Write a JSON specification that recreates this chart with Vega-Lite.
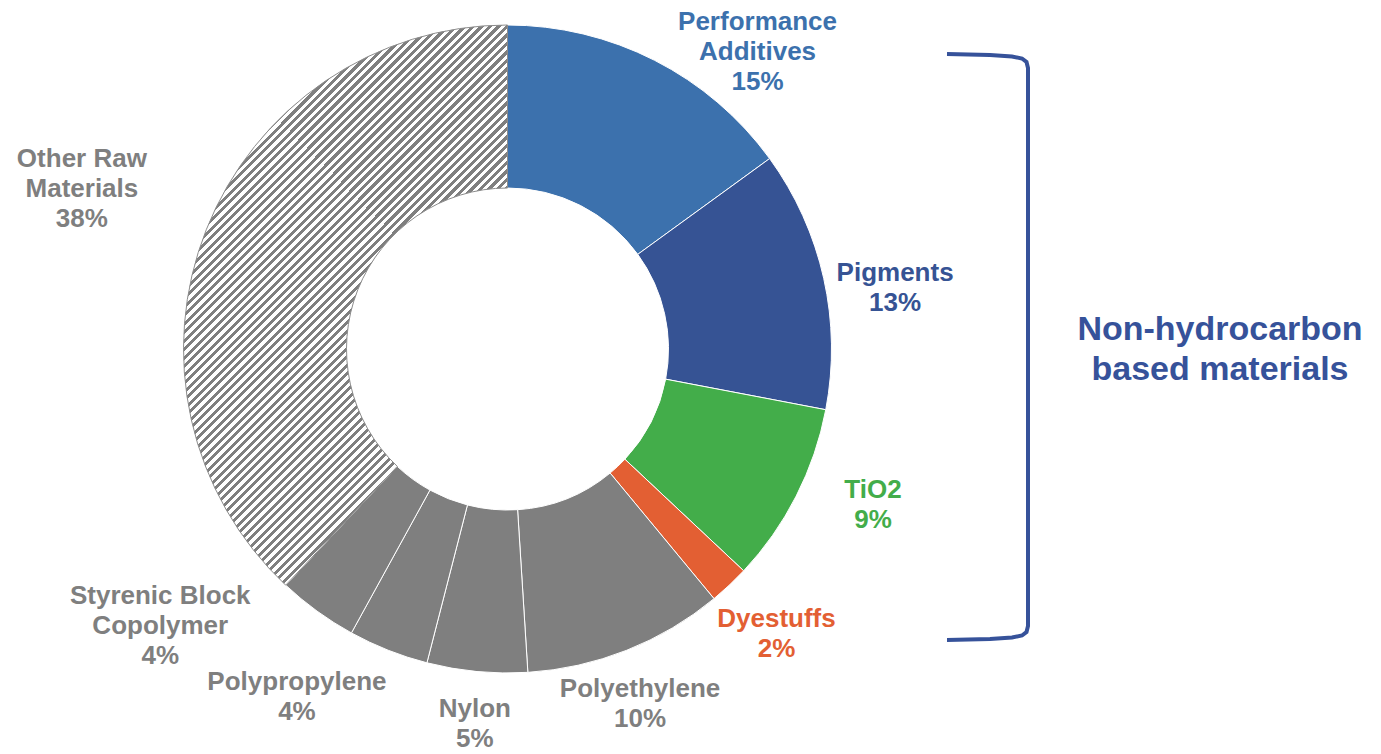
{
  "$schema": "https://vega.github.io/schema/vega-lite/v6.json",
  "width": 1015,
  "height": 698,
  "autosize": "none",
  "padding": {"left": 0, "top": 0, "right": 366, "bottom": 56},
  "background": "#ffffff",
  "config": {"view": {"stroke": null}, "text": {"font": "Liberation Sans"}},
  "datasets": {
    "slices": [
      {"idx": 0, "cat": "Performance Additives", "value": 15, "label": "Performance\nAdditives\n15%"},
      {"idx": 1, "cat": "Pigments", "value": 13, "label": "Pigments\n13%"},
      {"idx": 2, "cat": "TiO2", "value": 9, "label": "TiO2\n9%"},
      {"idx": 3, "cat": "Dyestuffs", "value": 2, "label": "Dyestuffs\n2%"},
      {"idx": 4, "cat": "Polyethylene", "value": 10, "label": "Polyethylene\n10%"},
      {"idx": 5, "cat": "Nylon", "value": 5, "label": "Nylon\n5%"},
      {"idx": 6, "cat": "Polypropylene", "value": 4, "label": "Polypropylene\n4%"},
      {"idx": 7, "cat": "Styrenic Block Copolymer", "value": 4, "label": "Styrenic Block\nCopolymer\n4%"},
      {"idx": 8, "cat": "Other Raw Materials", "value": 38, "label": "Other Raw\nMaterials\n38%"}
    ],
    "bracket": [
      {"i": 0, "x": 947, "y": 54},
      {"i": 1, "x": 990, "y": 55},
      {"i": 2, "x": 1012, "y": 56.5},
      {"i": 3, "x": 1022, "y": 58.5},
      {"i": 4, "x": 1026.5, "y": 62},
      {"i": 5, "x": 1028, "y": 68},
      {"i": 6, "x": 1028, "y": 626},
      {"i": 7, "x": 1026.5, "y": 632},
      {"i": 8, "x": 1022, "y": 635.5},
      {"i": 9, "x": 1012, "y": 637.5},
      {"i": 10, "x": 990, "y": 639},
      {"i": 11, "x": 947, "y": 640}
    ]
  },
  "layer": [
    {
      "data": {"name": "slices"},
      "mark": {"type": "arc", "outerRadius": 324, "innerRadius": 161, "strokeWidth": 1},
      "encoding": {
        "theta": {"field": "value", "type": "quantitative", "stack": true},
        "order": {"field": "idx", "type": "quantitative"},
        "color": {
          "condition": {
            "test": "datum.cat === 'Other Raw Materials'",
            "value": {
              "gradient": "linear", "x1": 0, "y1": 0, "x2": 0.658, "y2": 1.137,
              "stops": [
{"offset":0.22,"color":"#7f7f7f"},{"offset":0.225,"color":"#7f7f7f"},{"offset":0.225,"color":"#fff"},{"offset":0.23,"color":"#fff"},
{"offset":0.23,"color":"#7f7f7f"},{"offset":0.235,"color":"#7f7f7f"},{"offset":0.235,"color":"#fff"},{"offset":0.24,"color":"#fff"},
{"offset":0.24,"color":"#7f7f7f"},{"offset":0.245,"color":"#7f7f7f"},{"offset":0.245,"color":"#fff"},{"offset":0.25,"color":"#fff"},
{"offset":0.25,"color":"#7f7f7f"},{"offset":0.255,"color":"#7f7f7f"},{"offset":0.255,"color":"#fff"},{"offset":0.26,"color":"#fff"},
{"offset":0.26,"color":"#7f7f7f"},{"offset":0.265,"color":"#7f7f7f"},{"offset":0.265,"color":"#fff"},{"offset":0.27,"color":"#fff"},
{"offset":0.27,"color":"#7f7f7f"},{"offset":0.275,"color":"#7f7f7f"},{"offset":0.275,"color":"#fff"},{"offset":0.28,"color":"#fff"},
{"offset":0.28,"color":"#7f7f7f"},{"offset":0.285,"color":"#7f7f7f"},{"offset":0.285,"color":"#fff"},{"offset":0.29,"color":"#fff"},
{"offset":0.29,"color":"#7f7f7f"},{"offset":0.295,"color":"#7f7f7f"},{"offset":0.295,"color":"#fff"},{"offset":0.30,"color":"#fff"},
{"offset":0.30,"color":"#7f7f7f"},{"offset":0.305,"color":"#7f7f7f"},{"offset":0.305,"color":"#fff"},{"offset":0.31,"color":"#fff"},
{"offset":0.31,"color":"#7f7f7f"},{"offset":0.315,"color":"#7f7f7f"},{"offset":0.315,"color":"#fff"},{"offset":0.32,"color":"#fff"},
{"offset":0.32,"color":"#7f7f7f"},{"offset":0.325,"color":"#7f7f7f"},{"offset":0.325,"color":"#fff"},{"offset":0.33,"color":"#fff"},
{"offset":0.33,"color":"#7f7f7f"},{"offset":0.335,"color":"#7f7f7f"},{"offset":0.335,"color":"#fff"},{"offset":0.34,"color":"#fff"},
{"offset":0.34,"color":"#7f7f7f"},{"offset":0.345,"color":"#7f7f7f"},{"offset":0.345,"color":"#fff"},{"offset":0.35,"color":"#fff"},
{"offset":0.35,"color":"#7f7f7f"},{"offset":0.355,"color":"#7f7f7f"},{"offset":0.355,"color":"#fff"},{"offset":0.36,"color":"#fff"},
{"offset":0.36,"color":"#7f7f7f"},{"offset":0.365,"color":"#7f7f7f"},{"offset":0.365,"color":"#fff"},{"offset":0.37,"color":"#fff"},
{"offset":0.37,"color":"#7f7f7f"},{"offset":0.375,"color":"#7f7f7f"},{"offset":0.375,"color":"#fff"},{"offset":0.38,"color":"#fff"},
{"offset":0.38,"color":"#7f7f7f"},{"offset":0.385,"color":"#7f7f7f"},{"offset":0.385,"color":"#fff"},{"offset":0.39,"color":"#fff"},
{"offset":0.39,"color":"#7f7f7f"},{"offset":0.395,"color":"#7f7f7f"},{"offset":0.395,"color":"#fff"},{"offset":0.40,"color":"#fff"},
{"offset":0.40,"color":"#7f7f7f"},{"offset":0.405,"color":"#7f7f7f"},{"offset":0.405,"color":"#fff"},{"offset":0.41,"color":"#fff"},
{"offset":0.41,"color":"#7f7f7f"},{"offset":0.415,"color":"#7f7f7f"},{"offset":0.415,"color":"#fff"},{"offset":0.42,"color":"#fff"},
{"offset":0.42,"color":"#7f7f7f"},{"offset":0.425,"color":"#7f7f7f"},{"offset":0.425,"color":"#fff"},{"offset":0.43,"color":"#fff"},
{"offset":0.43,"color":"#7f7f7f"},{"offset":0.435,"color":"#7f7f7f"},{"offset":0.435,"color":"#fff"},{"offset":0.44,"color":"#fff"},
{"offset":0.44,"color":"#7f7f7f"},{"offset":0.445,"color":"#7f7f7f"},{"offset":0.445,"color":"#fff"},{"offset":0.45,"color":"#fff"},
{"offset":0.45,"color":"#7f7f7f"},{"offset":0.455,"color":"#7f7f7f"},{"offset":0.455,"color":"#fff"},{"offset":0.46,"color":"#fff"},
{"offset":0.46,"color":"#7f7f7f"},{"offset":0.465,"color":"#7f7f7f"},{"offset":0.465,"color":"#fff"},{"offset":0.47,"color":"#fff"},
{"offset":0.47,"color":"#7f7f7f"},{"offset":0.475,"color":"#7f7f7f"},{"offset":0.475,"color":"#fff"},{"offset":0.48,"color":"#fff"},
{"offset":0.48,"color":"#7f7f7f"},{"offset":0.485,"color":"#7f7f7f"},{"offset":0.485,"color":"#fff"},{"offset":0.49,"color":"#fff"},
{"offset":0.49,"color":"#7f7f7f"},{"offset":0.495,"color":"#7f7f7f"},{"offset":0.495,"color":"#fff"},{"offset":0.50,"color":"#fff"},
{"offset":0.50,"color":"#7f7f7f"},{"offset":0.505,"color":"#7f7f7f"},{"offset":0.505,"color":"#fff"},{"offset":0.51,"color":"#fff"},
{"offset":0.51,"color":"#7f7f7f"},{"offset":0.515,"color":"#7f7f7f"},{"offset":0.515,"color":"#fff"},{"offset":0.52,"color":"#fff"},
{"offset":0.52,"color":"#7f7f7f"},{"offset":0.525,"color":"#7f7f7f"},{"offset":0.525,"color":"#fff"},{"offset":0.53,"color":"#fff"},
{"offset":0.53,"color":"#7f7f7f"},{"offset":0.535,"color":"#7f7f7f"},{"offset":0.535,"color":"#fff"},{"offset":0.54,"color":"#fff"},
{"offset":0.54,"color":"#7f7f7f"},{"offset":0.545,"color":"#7f7f7f"},{"offset":0.545,"color":"#fff"},{"offset":0.55,"color":"#fff"},
{"offset":0.55,"color":"#7f7f7f"},{"offset":0.555,"color":"#7f7f7f"},{"offset":0.555,"color":"#fff"},{"offset":0.56,"color":"#fff"},
{"offset":0.56,"color":"#7f7f7f"},{"offset":0.565,"color":"#7f7f7f"},{"offset":0.565,"color":"#fff"},{"offset":0.57,"color":"#fff"},
{"offset":0.57,"color":"#7f7f7f"},{"offset":0.575,"color":"#7f7f7f"},{"offset":0.575,"color":"#fff"},{"offset":0.58,"color":"#fff"},
{"offset":0.58,"color":"#7f7f7f"},{"offset":0.585,"color":"#7f7f7f"},{"offset":0.585,"color":"#fff"},{"offset":0.59,"color":"#fff"},
{"offset":0.59,"color":"#7f7f7f"},{"offset":0.595,"color":"#7f7f7f"},{"offset":0.595,"color":"#fff"},{"offset":0.60,"color":"#fff"},
{"offset":0.60,"color":"#7f7f7f"},{"offset":0.605,"color":"#7f7f7f"},{"offset":0.605,"color":"#fff"},{"offset":0.61,"color":"#fff"},
{"offset":0.61,"color":"#7f7f7f"},{"offset":0.615,"color":"#7f7f7f"},{"offset":0.615,"color":"#fff"},{"offset":0.62,"color":"#fff"},
{"offset":0.62,"color":"#7f7f7f"},{"offset":0.625,"color":"#7f7f7f"},{"offset":0.625,"color":"#fff"},{"offset":0.63,"color":"#fff"},
{"offset":0.63,"color":"#7f7f7f"},{"offset":0.635,"color":"#7f7f7f"},{"offset":0.635,"color":"#fff"},{"offset":0.64,"color":"#fff"},
{"offset":0.64,"color":"#7f7f7f"},{"offset":0.645,"color":"#7f7f7f"},{"offset":0.645,"color":"#fff"},{"offset":0.65,"color":"#fff"},
{"offset":0.65,"color":"#7f7f7f"},{"offset":0.655,"color":"#7f7f7f"},{"offset":0.655,"color":"#fff"},{"offset":0.66,"color":"#fff"},
{"offset":0.66,"color":"#7f7f7f"},{"offset":0.665,"color":"#7f7f7f"},{"offset":0.665,"color":"#fff"},{"offset":0.67,"color":"#fff"},
{"offset":0.67,"color":"#7f7f7f"},{"offset":0.675,"color":"#7f7f7f"},{"offset":0.675,"color":"#fff"},{"offset":0.68,"color":"#fff"},
{"offset":0.68,"color":"#7f7f7f"},{"offset":0.685,"color":"#7f7f7f"},{"offset":0.685,"color":"#fff"},{"offset":0.69,"color":"#fff"},
{"offset":0.69,"color":"#7f7f7f"},{"offset":0.695,"color":"#7f7f7f"},{"offset":0.695,"color":"#fff"},{"offset":0.70,"color":"#fff"},
{"offset":0.70,"color":"#7f7f7f"},{"offset":0.705,"color":"#7f7f7f"},{"offset":0.705,"color":"#fff"},{"offset":0.71,"color":"#fff"},
{"offset":0.71,"color":"#7f7f7f"},{"offset":0.715,"color":"#7f7f7f"},{"offset":0.715,"color":"#fff"},{"offset":0.72,"color":"#fff"},
{"offset":0.72,"color":"#7f7f7f"},{"offset":0.725,"color":"#7f7f7f"},{"offset":0.725,"color":"#fff"},{"offset":0.73,"color":"#fff"},
{"offset":0.73,"color":"#7f7f7f"},{"offset":0.735,"color":"#7f7f7f"},{"offset":0.735,"color":"#fff"},{"offset":0.74,"color":"#fff"},
{"offset":0.74,"color":"#7f7f7f"},{"offset":0.745,"color":"#7f7f7f"},{"offset":0.745,"color":"#fff"},{"offset":0.75,"color":"#fff"},
{"offset":0.75,"color":"#7f7f7f"},{"offset":0.755,"color":"#7f7f7f"},{"offset":0.755,"color":"#fff"},{"offset":0.76,"color":"#fff"},
{"offset":0.76,"color":"#7f7f7f"},{"offset":0.765,"color":"#7f7f7f"},{"offset":0.765,"color":"#fff"},{"offset":0.77,"color":"#fff"},
{"offset":0.77,"color":"#7f7f7f"},{"offset":0.775,"color":"#7f7f7f"},{"offset":0.775,"color":"#fff"},{"offset":0.78,"color":"#fff"},
{"offset":0.78,"color":"#7f7f7f"},{"offset":0.785,"color":"#7f7f7f"},{"offset":0.785,"color":"#fff"},{"offset":0.79,"color":"#fff"},
{"offset":0.79,"color":"#7f7f7f"},{"offset":0.795,"color":"#7f7f7f"},{"offset":0.795,"color":"#fff"},{"offset":0.80,"color":"#fff"}
              ]
            }
          },
          "field": "cat",
          "type": "nominal",
          "scale": {
            "domain": ["Performance Additives", "Pigments", "TiO2", "Dyestuffs", "Polyethylene", "Nylon", "Polypropylene", "Styrenic Block Copolymer", "Other Raw Materials"],
            "range": ["#3c71ad", "#365394", "#43ad4a", "#e35f33", "#7f7f7f", "#7f7f7f", "#7f7f7f", "#7f7f7f", "#7f7f7f"]
          },
          "legend": null
        },
        "stroke": {
          "condition": {"test": "datum.cat === 'Other Raw Materials'", "value": "#8c8c8c"},
          "value": "#ffffff"
        }
      }
    },
    {
      "data": {"name": "slices"},
      "mark": {
        "type": "text", "radius": 390, "fontSize": 26, "fontWeight": "bold", "lineHeight": 30,
        "lineBreak": "\n", "align": "center", "baseline": "middle",
        "dx": {"expr": "[73, 7, 18, 2, -11, 4, -67, -118, -63][datum.idx]"},
        "dy": {"expr": "[20, 9, -36, -14, -23, -28, -30, -69, -46][datum.idx]"}
      },
      "encoding": {
        "theta": {"field": "value", "type": "quantitative", "stack": true},
        "order": {"field": "idx", "type": "quantitative"},
        "text": {"field": "label", "type": "nominal"},
        "color": {"field": "cat", "type": "nominal", "legend": null}
      }
    },
    {
      "data": {"name": "bracket"},
      "mark": {"type": "line", "stroke": "#36529a", "strokeWidth": 4},
      "encoding": {
        "x": {"field": "x", "type": "quantitative", "scale": {"domain": [0, 1015], "zero": false, "nice": false}, "axis": null},
        "y": {"field": "y", "type": "quantitative", "scale": {"domain": [0, 698], "reverse": true, "zero": false, "nice": false}, "axis": null},
        "order": {"field": "i", "type": "quantitative"}
      }
    },
    {
      "data": {"values": [{"note": "Non-hydrocarbon\nbased materials"}]},
      "mark": {
        "type": "text", "fontSize": 34, "fontWeight": "bold", "lineHeight": 40,
        "lineBreak": "\n", "align": "center", "baseline": "middle", "color": "#36529a"
      },
      "encoding": {
        "x": {"datum": 1220, "type": "quantitative"},
        "y": {"datum": 330, "type": "quantitative"},
        "text": {"field": "note", "type": "nominal"}
      }
    }
  ]
}
